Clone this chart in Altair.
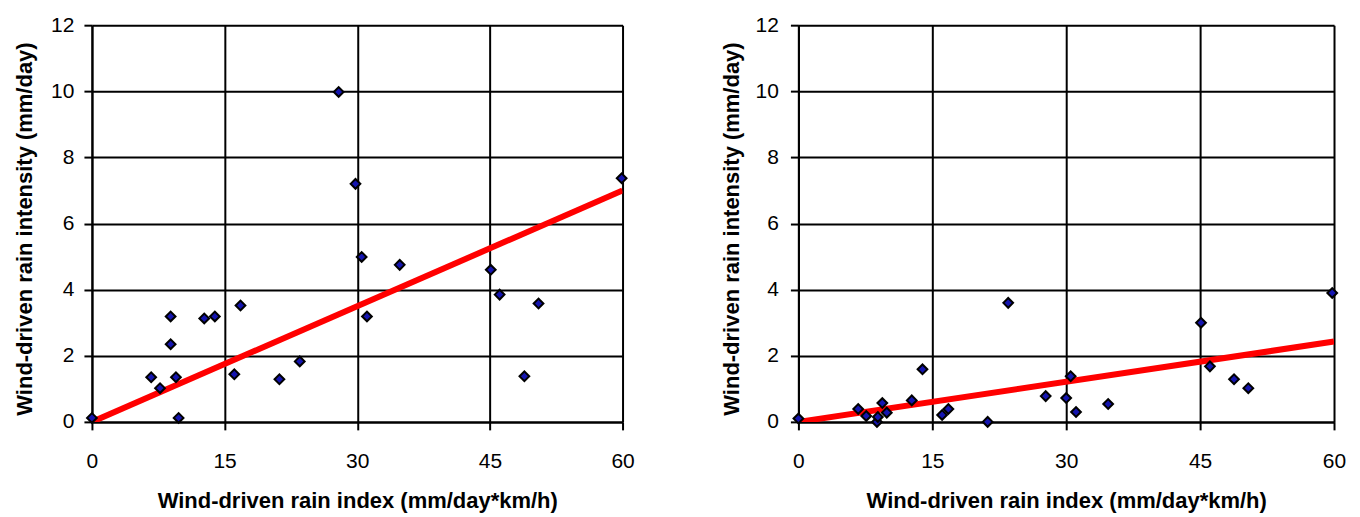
import altair as alt
import pandas as pd

# ---- data ----
left_x = [0, 6.7, 7.7, 8.9, 8.9, 9.5, 9.8, 12.7, 13.9, 16.1, 16.8, 21.2, 23.5,
          27.9, 29.8, 30.5, 31.1, 34.8, 45.1, 46.1, 48.9, 50.5, 59.9]
left_y = [0.12, 1.35, 1.02, 3.19, 2.35, 1.35, 0.12, 3.13, 3.19, 1.44, 3.52, 1.29, 1.83,
          9.98, 7.2, 4.99, 3.19, 4.75, 4.6, 3.85, 1.38, 3.58, 7.37]
right_x = [0, 6.7, 7.6, 8.8, 8.9, 9.4, 9.9, 12.7, 13.9, 16.1, 16.8, 21.2, 23.5,
           27.7, 30.0, 30.5, 31.1, 34.7, 45.1, 46.1, 48.8, 50.4, 59.8]
right_y = [0.1, 0.39, 0.18, 0.0, 0.15, 0.57, 0.28, 0.65, 1.59, 0.21, 0.39, 0.0, 3.6,
           0.78, 0.72, 1.38, 0.3, 0.54, 3.0, 1.68, 1.29, 1.02, 3.9]
trend_x = [0, 60]
left_trend_y = [0, 7.0]
right_trend_y = [0, 2.43]
x_ticks = [0, 15, 30, 45, 60]
y_ticks = [0, 2, 4, 6, 8, 10, 12]
x_title = "Wind-driven rain index (mm/day*km/h)"
y_title = "Wind-driven rain intensity (mm/day)"

FONT = "Liberation Sans"


def panel(px, py, ty, width, height, ylab_pad, ytitle_pad):
    pts = pd.DataFrame({"x": px, "y": py})
    trend = pd.DataFrame({"x": trend_x, "y": ty})
    xs = alt.Scale(domain=[0, 60], nice=False)
    ys = alt.Scale(domain=[0, 12], nice=False)
    common = dict(grid=True, gridColor="black", gridWidth=2, domainColor="black",
                  domainWidth=2, tickColor="black", tickWidth=2, tickSize=8,
                  labelFont=FONT, labelFontSize=21, labelColor="black",
                  titleFont=FONT, titleFontWeight="bold", titleColor="black",
                  labelFlush=False)
    xaxis = alt.Axis(values=x_ticks, title=x_title, labelPadding=21,
                     titleFontSize=22, titlePadding=19, **common)
    yaxis = alt.Axis(values=y_ticks, title=y_title, labelPadding=ylab_pad,
                     titleFontSize=22, titlePadding=ytitle_pad,
                     titleY=height / 2 + 5, **common)
    line = alt.Chart(trend).mark_line(color="#ff0000", strokeWidth=6, clip=True).encode(
        x=alt.X("x:Q", scale=xs, axis=xaxis),
        y=alt.Y("y:Q", scale=ys, axis=yaxis),
    )
    dots = alt.Chart(pts).mark_point(shape="diamond", filled=True, fill="#1515b0",
                                     stroke="black", strokeWidth=2, size=95,
                                     opacity=1).encode(
        x=alt.X("x:Q", scale=xs),
        y=alt.Y("y:Q", scale=ys),
    )
    return alt.layer(line, dots).properties(width=width, height=height)


left = panel(left_x, left_y, left_trend_y, 531, 397, 10, 14)
right = panel(right_x, right_y, right_trend_y, 536, 397, 12, 12)

chart = alt.hconcat(left, right, spacing=84).configure_view(
    stroke="#a0a8a8", strokeWidth=2
).configure(background="white")

chart.save("out.html", embed_options={"renderer": "svg", "actions": False})
